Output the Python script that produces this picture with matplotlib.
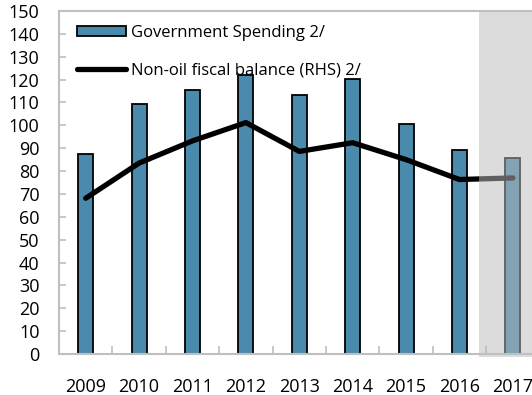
import matplotlib.pyplot as plt
import numpy as np

plt.rcParams['font.family'] = ['Open Sans', 'DejaVu Sans']

# Datos
years = ['2009', '2010', '2011', '2012', '2013', '2014', '2015', '2016', '2017']
spending = [87.3, 109.3, 115.6, 122.0, 113.2, 120.2, 100.4, 89.2, 85.8]
non_oil = [68.1, 83.5, 93.2, 101.2, 88.6, 92.4, 85.0, 76.3, 77.0]
y_ticks = list(range(0, 151, 10))

x = np.arange(len(years))

fig = plt.figure(figsize=(5.32, 3.95), dpi=100)
ax = fig.add_axes([59 / 532, 1 - 354 / 395, 480.6 / 532, 343 / 395])

# Barras de gasto
bars = ax.bar(x, spending, width=0.28, color='#4a8bad', edgecolor='black',
              linewidth=1.3, zorder=2, label='Government Spending 2/')

# Línea del balance no petrolero
line, = ax.plot(x, non_oil, color='black', linewidth=3.8, solid_capstyle='round',
                solid_joinstyle='round', zorder=3,
                label='Non-oil fiscal balance (RHS) 2/')

# Zona de proyección sombreada
ax.axvspan(7.37, 8.6, ymin=-0.008, ymax=1, color='#bbbbbb', alpha=0.51,
           linewidth=0, zorder=4, clip_on=False)

ax.set_xlim(-0.5, 8.5)
ax.set_ylim(0, 150)
ax.set_yticks(y_ticks)
ax.set_xticks(x)
ax.set_xticklabels(years)
ax.set_xticks(x[:-1] + 0.5, minor=True)

ax.tick_params(axis='y', direction='in', length=5, width=1.2, color='#bfbfbf',
               labelsize=13, pad=14)
ax.tick_params(axis='x', which='major', length=0, labelsize=13, pad=17)
ax.tick_params(axis='x', which='minor', direction='in', length=6, width=1.2,
               color='#bfbfbf')

for side in ['left', 'bottom', 'top']:
    ax.spines[side].set_color('#bfbfbf')
    ax.spines[side].set_linewidth(1.5)
    ax.spines[side].set_zorder(5)
ax.spines['right'].set_visible(False)

leg = ax.legend(handles=[bars, line], loc='upper left',
                bbox_to_anchor=(0.038, 0.96), frameon=False,
                fontsize=12, handlelength=2.9, handleheight=0.55,
                handletextpad=0.3, labelspacing=1.3, borderpad=0,
                borderaxespad=0)
for h in leg.get_lines():
    h.set_solid_capstyle('round')

plt.savefig('out.png', dpi=100)
